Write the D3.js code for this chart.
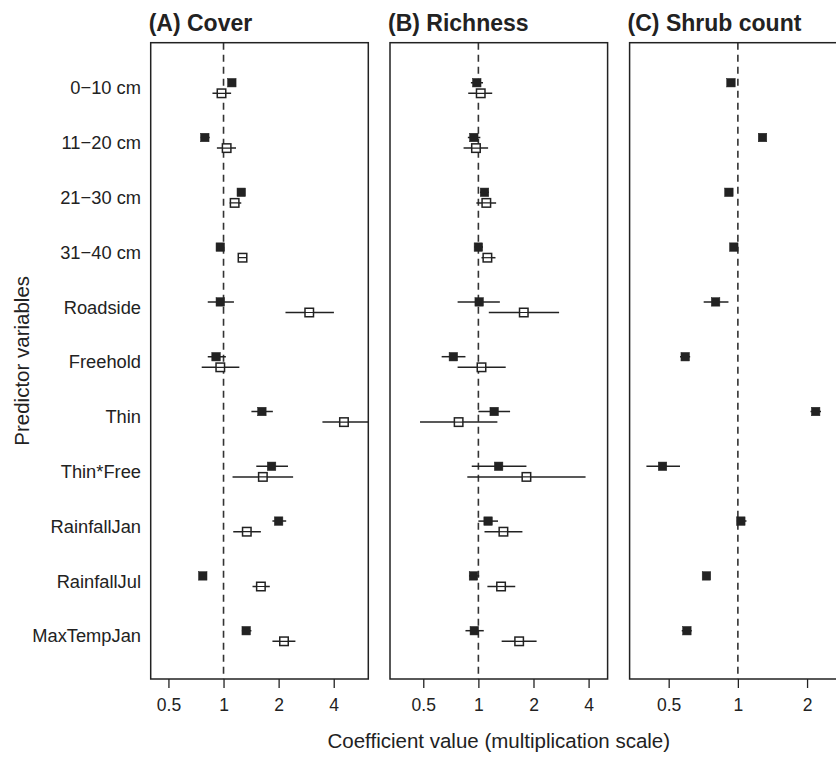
<!DOCTYPE html>
<html>
<head>
<meta charset="utf-8">
<script src="https://cdn.jsdelivr.net/npm/d3@7"></script>
<style>
  body { margin: 0; background: #fff; }
  text { font-family: "Liberation Sans", Arial, sans-serif; fill: #222; }
</style>
</head>
<body>
<div id="chart"></div>
<script>
// PREDICTORS (top to bottom)
const predictors = ["0\u221210 cm", "11\u221220 cm", "21\u221230 cm", "31\u221240 cm", "Roadside",
  "Freehold", "Thin", "Thin*Free", "RainfallJan", "RainfallJul", "MaxTempJan"];

// [estimate, lower, upper] per predictor
const coverSolid = [[1.11, 1.08, 1.14], [0.79, 0.75, 0.84], [1.25, 1.20, 1.31], [0.96, 0.94, 0.98],
  [0.96, 0.82, 1.14], [0.91, 0.82, 1.03], [1.62, 1.42, 1.86], [1.83, 1.51, 2.25],
  [2.00, 1.85, 2.20], [0.77, 0.75, 0.79], [1.33, 1.26, 1.42]];
const coverOpen = [[0.975, 0.87, 1.10], [1.04, 0.92, 1.17], [1.15, 1.08, 1.25], [1.27, 1.21, 1.34],
  [2.94, 2.18, 4.01], [0.96, 0.76, 1.22], [4.55, 3.47, 6.50], [1.64, 1.12, 2.40],
  [1.34, 1.13, 1.60], [1.60, 1.44, 1.79], [2.14, 1.85, 2.47]];
const richSolid = [[0.98, 0.91, 1.06], [0.944, 0.876, 1.025], [1.08, 1.02, 1.14], [1.00, 0.95, 1.06],
  [1.01, 0.77, 1.31], [0.73, 0.63, 0.85], [1.22, 1.00, 1.49], [1.29, 0.92, 1.83],
  [1.13, 1.00, 1.28], [0.94, 0.89, 1.01], [0.95, 0.85, 1.07]];
const richOpen = [[1.03, 0.88, 1.19], [0.97, 0.83, 1.13], [1.105, 0.975, 1.25], [1.12, 1.04, 1.24],
  [1.77, 1.14, 2.76], [1.04, 0.77, 1.41], [0.78, 0.48, 1.27], [1.83, 0.87, 3.85],
  [1.37, 1.08, 1.74], [1.33, 1.12, 1.59], [1.67, 1.34, 2.08]];
const shrubSolid = [[0.933, 0.92, 0.95], [1.28, 1.26, 1.30], [0.914, 0.90, 0.93], [0.96, 0.95, 0.97],
  [0.80, 0.71, 0.91], [0.59, 0.56, 0.62], [2.18, 2.07, 2.30], [0.47, 0.40, 0.56],
  [1.03, 0.99, 1.09], [0.73, 0.72, 0.74], [0.60, 0.57, 0.63]];

const tickValues = [0.5, 1, 2, 4];
const panelTitles = ["(A) Cover", "(B) Richness", "(C) Shrub count"];

const WIDTH = 836, HEIGHT = 757;
const BOX = { top: 42.7, bottom: 679, width: 217.6 };
const PANELS = [
  { x0: 150.7, domain: [0.40, 6.18], solid: coverSolid, open: coverOpen },
  { x0: 390.0, domain: [0.329, 5.08], solid: richSolid, open: richOpen },
  { x0: 629.6, domain: [0.338, 2.99], solid: shrubSolid, open: null }
];
const DODGE = 5.3, SQ = 8.5, INK = "#222";

const svg = d3.select("#chart").append("svg")
  .attr("width", WIDTH)
  .attr("height", HEIGHT);

const y = d3.scalePoint().domain(predictors).range([88, 636]);

// Y LABELS
svg.append("g").selectAll("text")
  .data(predictors)
  .join("text")
  .attr("x", 141)
  .attr("y", d => y(d))
  .attr("dy", "0.35em")
  .attr("text-anchor", "end")
  .style("font-size", "18.3px")
  .text(d => d);

// Y TITLE
svg.append("text")
  .attr("transform", `translate(29,${(BOX.top + BOX.bottom) / 2}) rotate(-90)`)
  .attr("text-anchor", "middle")
  .style("font-size", "20.5px")
  .text("Predictor variables");

PANELS.forEach((p, i) => {
  const x = d3.scaleLog().domain(p.domain).range([p.x0, p.x0 + BOX.width]);
  const g = svg.append("g");
  const clipId = "clip" + i;

  svg.append("clipPath").attr("id", clipId)
    .append("rect")
    .attr("x", p.x0).attr("y", BOX.top)
    .attr("width", BOX.width).attr("height", BOX.bottom - BOX.top);

  // TITLE
  g.append("text")
    .attr("x", p.x0 - 2)
    .attr("y", 31)
    .style("font-size", "23px")
    .style("font-weight", "bold")
    .text(panelTitles[i]);

  // X AXIS
  const ticks = tickValues.filter(t => t >= p.domain[0] && t <= p.domain[1]);
  const axis = g.append("g")
    .attr("transform", `translate(0,${BOX.bottom})`)
    .call(d3.axisBottom(x).tickValues(ticks).tickFormat(d3.format("")).tickSize(9).tickPadding(11));
  axis.select(".domain").remove();
  axis.selectAll("line").attr("stroke", INK).attr("stroke-width", 1.3);
  axis.selectAll("text").style("font-size", "17.5px").attr("fill", INK)
    .style("font-family", '"Liberation Sans", Arial, sans-serif');

  // REFERENCE LINE AT 1
  g.append("line")
    .attr("x1", x(1)).attr("x2", x(1))
    .attr("y1", BOX.top).attr("y2", BOX.bottom)
    .attr("stroke", "#333")
    .attr("stroke-width", 1.6)
    .attr("stroke-dasharray", "7,5");

  const marks = g.append("g").attr("clip-path", `url(#${clipId})`);

  const drawSeries = (data, offset, filled) => {
    const s = marks.append("g");
    s.selectAll("line")
      .data(data)
      .join("line")
      .attr("x1", d => x(d[1])).attr("x2", d => x(d[2]))
      .attr("y1", (d, k) => y(predictors[k]) + offset)
      .attr("y2", (d, k) => y(predictors[k]) + offset)
      .attr("stroke", INK)
      .attr("stroke-width", 1.5);
    s.selectAll("rect")
      .data(data)
      .join("rect")
      .attr("x", d => x(d[0]) - SQ / 2)
      .attr("y", (d, k) => y(predictors[k]) + offset - SQ / 2)
      .attr("width", SQ).attr("height", SQ)
      .attr("fill", filled ? INK : "#fff")
      .attr("stroke", INK)
      .attr("stroke-width", filled ? 0.5 : 1.5);
    if (!filled) {
      // open squares show the bar through their middle
      s.selectAll("line.mid")
        .data(data)
        .join("line")
        .attr("class", "mid")
        .attr("x1", d => x(d[0]) - SQ / 2).attr("x2", d => x(d[0]) + SQ / 2)
        .attr("y1", (d, k) => y(predictors[k]) + offset)
        .attr("y2", (d, k) => y(predictors[k]) + offset)
        .attr("stroke", INK)
        .attr("stroke-width", 1.2);
    }
  };

  drawSeries(p.solid, -DODGE, true);
  if (p.open) drawSeries(p.open, DODGE, false);

  // PANEL BOX
  g.append("rect")
    .attr("x", p.x0).attr("y", BOX.top)
    .attr("width", BOX.width).attr("height", BOX.bottom - BOX.top)
    .attr("fill", "none")
    .attr("stroke", INK)
    .attr("stroke-width", 1.5);
});

// X TITLE
svg.append("text")
  .attr("x", PANELS[1].x0 + BOX.width / 2)
  .attr("y", 748)
  .attr("text-anchor", "middle")
  .style("font-size", "20.5px")
  .text("Coefficient value (multiplication scale)");
</script>
</body>
</html>
